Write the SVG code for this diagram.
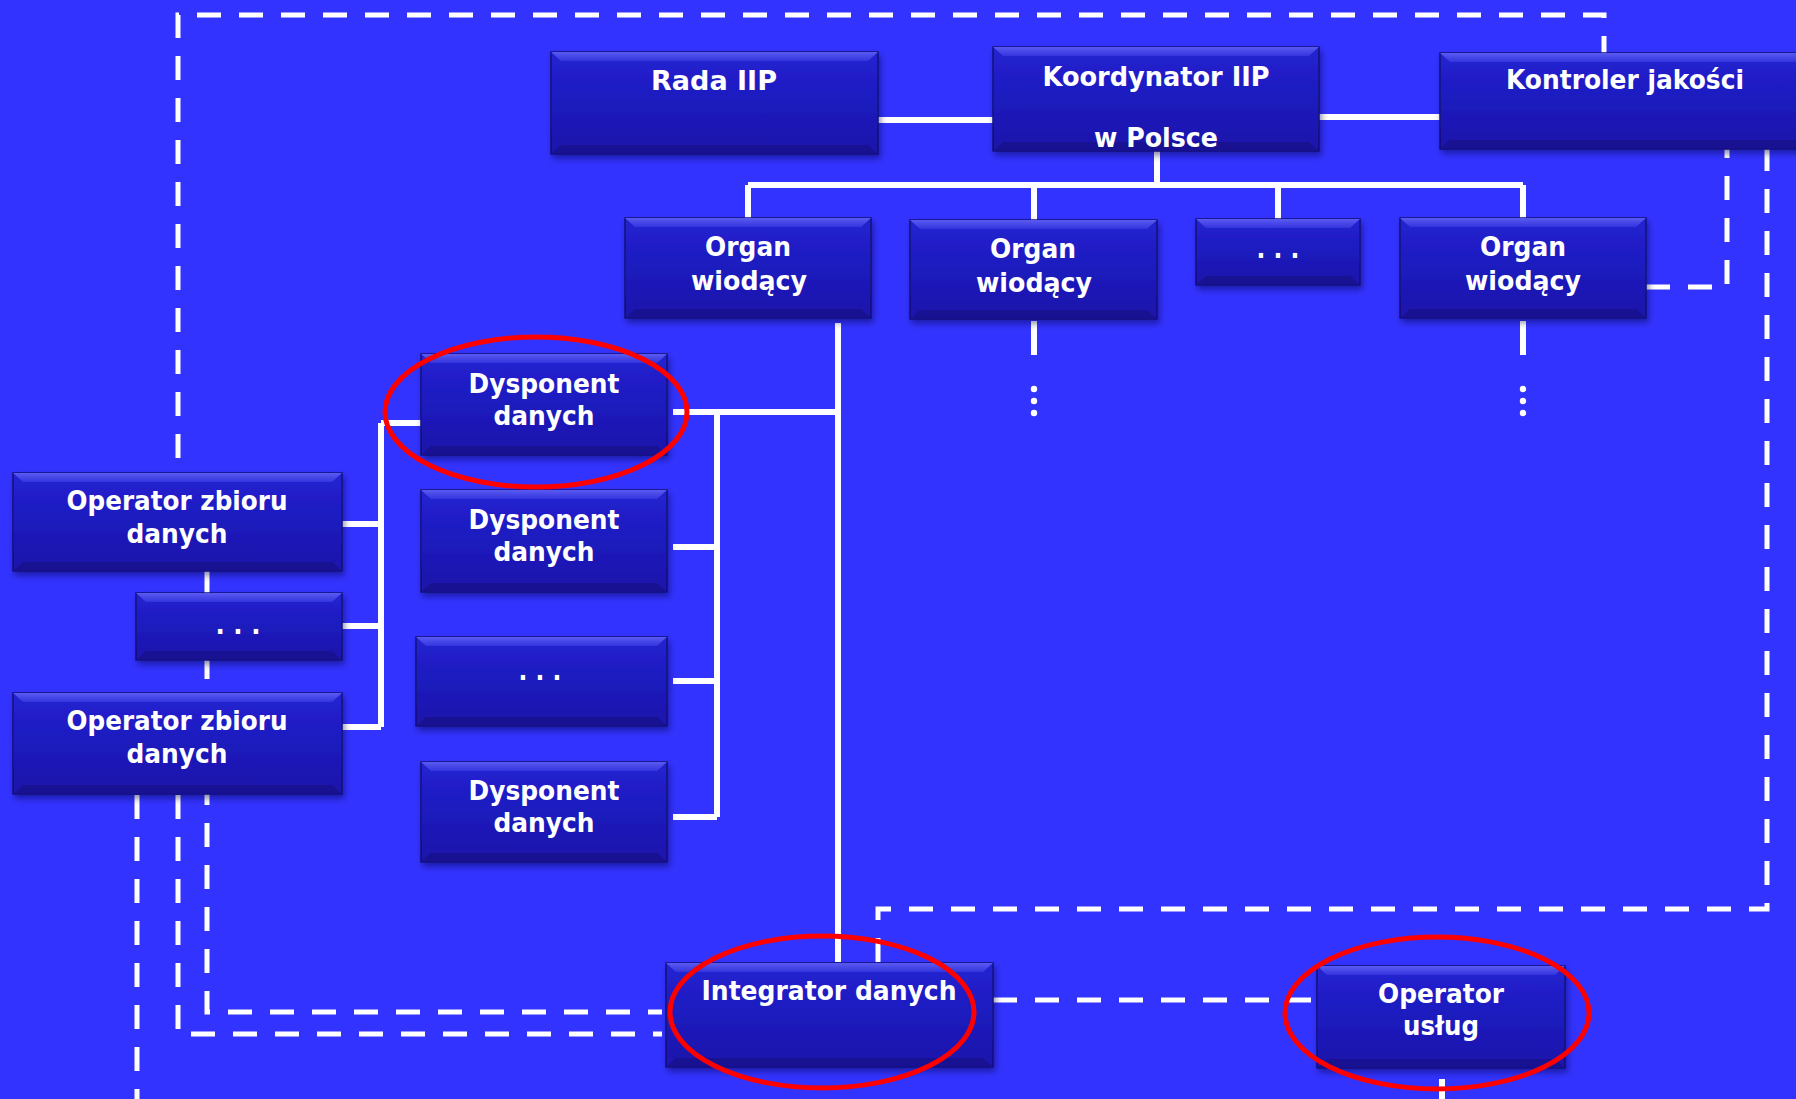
<svg xmlns="http://www.w3.org/2000/svg" width="1796" height="1099" viewBox="0 0 1796 1099">
<defs>
<linearGradient id="g" x1="0" y1="0" x2="0" y2="1">
<stop offset="0" stop-color="#2222d2"/>
<stop offset="1" stop-color="#1a14aa"/>
</linearGradient>
<linearGradient id="hg" x1="0" y1="0" x2="0" y2="1">
<stop offset="0" stop-color="#5a5af2"/>
<stop offset="1" stop-color="#3434de"/>
</linearGradient>
<filter id="sh" x="-10%" y="-10%" width="120%" height="130%">
<feDropShadow dx="2" dy="4" stdDeviation="3" flood-color="#000040" flood-opacity="0.45"/>
</filter>
<style>
.b{fill:url(#g);stroke:#10107a;stroke-width:1.5;filter:url(#sh)}
.hl{fill:url(#hg)}
.bt{fill:#17128e;opacity:0.85}
.t{fill:#fff;font-family:"DejaVu Sans","Liberation Sans",sans-serif;font-weight:bold;font-size:26px;text-anchor:middle}
.s{fill:none;stroke:#fff;stroke-width:6}
.d{fill:none;stroke:#fff;stroke-width:5;stroke-dasharray:24 18}
.r{fill:none;stroke:#ff0000;stroke-width:5}
</style>
</defs>
<rect width="1796" height="1099" fill="#3333ff"/>
<g id="connectors">
<path class="d" d="M178 458 V15 H1604 V53"/>
<path class="d" d="M137 795 V1099"/>
<path class="d" d="M178 795 V1034 H662"/>
<path class="d" d="M207 571 V1012 H662"/>
<path class="d" d="M993 1000 H1317"/>
<path class="d" d="M878 962 V909 H1767 V149"/>
<path class="d" d="M1646 287 H1727 V149"/>
<path class="s" d="M878 120 H993"/>
<path class="s" d="M1319 117 H1440"/>
<path class="s" d="M1157 151 V185"/>
<path class="s" d="M748 185 H1523"/>
<path class="s" d="M748 185 V218 M1034 185 V220 M1278 185 V219 M1523 185 V218"/>
<path class="s" d="M1034 321 V355 M1523 321 V355"/>
<g fill="#fff"><circle cx="1034" cy="389" r="3.2"/><circle cx="1034" cy="401" r="3.2"/><circle cx="1034" cy="413" r="3.2"/><circle cx="1523" cy="389" r="3.2"/><circle cx="1523" cy="401" r="3.2"/><circle cx="1523" cy="413" r="3.2"/></g>
<path class="s" d="M838 323 V962"/>
<path class="s" d="M673 412 H838"/>
<path class="s" d="M717 412 V817 M673 547 H717 M673 681 H717 M673 817 H717"/>
<path class="s" d="M381 423 V727 M381 423 H421 M342 524 H381 M342 626 H381 M342 727 H381"/>
<path class="s" d="M1442 1079 V1099" stroke-width="5"/>
</g>
<g id="rada"><rect class="b" x="551" y="52" width="327" height="102"/><path class="hl" d="M551 52 h327 l-10 9 h-307 z"/><path class="bt" d="M551 154 h327 l-10 -9 h-307 z"/><text class="t" x="714" y="90" textLength="126" lengthAdjust="spacingAndGlyphs">Rada IIP</text></g>
<g id="koordynator"><rect class="b" x="993" y="47" width="326" height="104"/><path class="hl" d="M993 47 h326 l-10 9 h-306 z"/><path class="bt" d="M993 151 h326 l-10 -9 h-306 z"/><text class="t" x="1156" y="86" textLength="227" lengthAdjust="spacingAndGlyphs">Koordynator IIP</text><text class="t" x="1156" y="147" textLength="124" lengthAdjust="spacingAndGlyphs">w Polsce</text></g>
<g id="kontroler"><rect class="b" x="1440" y="53" width="380" height="96"/><path class="hl" d="M1440 53 h380 l-10 9 h-360 z"/><path class="bt" d="M1440 149 h380 l-10 -9 h-360 z"/><text class="t" x="1625" y="89" textLength="238" lengthAdjust="spacingAndGlyphs">Kontroler jakości</text></g>
<g id="organ1"><rect class="b" x="625" y="218" width="246" height="100"/><path class="hl" d="M625 218 h246 l-10 9 h-226 z"/><path class="bt" d="M625 318 h246 l-10 -9 h-226 z"/><text class="t" x="748" y="256" textLength="86" lengthAdjust="spacingAndGlyphs">Organ</text><text class="t" x="749" y="290" textLength="116" lengthAdjust="spacingAndGlyphs">wiodący</text></g>
<g id="organ2"><rect class="b" x="910" y="220" width="247" height="99"/><path class="hl" d="M910 220 h247 l-10 9 h-227 z"/><path class="bt" d="M910 319 h247 l-10 -9 h-227 z"/><text class="t" x="1033" y="258" textLength="86" lengthAdjust="spacingAndGlyphs">Organ</text><text class="t" x="1034" y="292" textLength="116" lengthAdjust="spacingAndGlyphs">wiodący</text></g>
<g id="organ3"><rect class="b" x="1196" y="219" width="164" height="66"/><path class="hl" d="M1196 219 h164 l-10 9 h-144 z"/><path class="bt" d="M1196 285 h164 l-10 -9 h-144 z"/><text class="t" x="1278" y="258" textLength="43" lengthAdjust="spacingAndGlyphs">. . .</text></g>
<g id="organ4"><rect class="b" x="1400" y="218" width="246" height="100"/><path class="hl" d="M1400 218 h246 l-10 9 h-226 z"/><path class="bt" d="M1400 318 h246 l-10 -9 h-226 z"/><text class="t" x="1523" y="256" textLength="86" lengthAdjust="spacingAndGlyphs">Organ</text><text class="t" x="1523" y="290" textLength="116" lengthAdjust="spacingAndGlyphs">wiodący</text></g>
<g id="dysponent1"><rect class="b" x="421" y="354" width="246" height="101"/><path class="hl" d="M421 354 h246 l-10 9 h-226 z"/><path class="bt" d="M421 455 h246 l-10 -9 h-226 z"/><text class="t" x="544" y="393" textLength="151" lengthAdjust="spacingAndGlyphs">Dysponent</text><text class="t" x="544" y="425" textLength="101" lengthAdjust="spacingAndGlyphs">danych</text></g>
<g id="dysponent2"><rect class="b" x="421" y="490" width="246" height="102"/><path class="hl" d="M421 490 h246 l-10 9 h-226 z"/><path class="bt" d="M421 592 h246 l-10 -9 h-226 z"/><text class="t" x="544" y="529" textLength="151" lengthAdjust="spacingAndGlyphs">Dysponent</text><text class="t" x="544" y="561" textLength="101" lengthAdjust="spacingAndGlyphs">danych</text></g>
<g id="dysponent3"><rect class="b" x="416" y="637" width="251" height="89"/><path class="hl" d="M416 637 h251 l-10 9 h-231 z"/><path class="bt" d="M416 726 h251 l-10 -9 h-231 z"/><text class="t" x="540" y="680" textLength="43" lengthAdjust="spacingAndGlyphs">. . .</text></g>
<g id="dysponent4"><rect class="b" x="421" y="762" width="246" height="100"/><path class="hl" d="M421 762 h246 l-10 9 h-226 z"/><path class="bt" d="M421 862 h246 l-10 -9 h-226 z"/><text class="t" x="544" y="800" textLength="151" lengthAdjust="spacingAndGlyphs">Dysponent</text><text class="t" x="544" y="832" textLength="101" lengthAdjust="spacingAndGlyphs">danych</text></g>
<g id="operator1"><rect class="b" x="13" y="473" width="329" height="98"/><path class="hl" d="M13 473 h329 l-10 9 h-309 z"/><path class="bt" d="M13 571 h329 l-10 -9 h-309 z"/><text class="t" x="177" y="510" textLength="221" lengthAdjust="spacingAndGlyphs">Operator zbioru</text><text class="t" x="177" y="543" textLength="101" lengthAdjust="spacingAndGlyphs">danych</text></g>
<g id="operator2"><rect class="b" x="136" y="593" width="206" height="67"/><path class="hl" d="M136 593 h206 l-10 9 h-186 z"/><path class="bt" d="M136 660 h206 l-10 -9 h-186 z"/><text class="t" x="238" y="634" textLength="45" lengthAdjust="spacingAndGlyphs">. . .</text></g>
<g id="operator3"><rect class="b" x="13" y="693" width="329" height="101"/><path class="hl" d="M13 693 h329 l-10 9 h-309 z"/><path class="bt" d="M13 794 h329 l-10 -9 h-309 z"/><text class="t" x="177" y="730" textLength="221" lengthAdjust="spacingAndGlyphs">Operator zbioru</text><text class="t" x="177" y="763" textLength="101" lengthAdjust="spacingAndGlyphs">danych</text></g>
<g id="integrator"><rect class="b" x="666" y="963" width="327" height="104"/><path class="hl" d="M666 963 h327 l-10 9 h-307 z"/><path class="bt" d="M666 1067 h327 l-10 -9 h-307 z"/><text class="t" x="829" y="1000" textLength="255" lengthAdjust="spacingAndGlyphs">Integrator danych</text></g>
<g id="operatorUslug"><rect class="b" x="1317" y="966" width="248" height="102"/><path class="hl" d="M1317 966 h248 l-10 9 h-228 z"/><path class="bt" d="M1317 1068 h248 l-10 -9 h-228 z"/><text class="t" x="1441" y="1003" textLength="126" lengthAdjust="spacingAndGlyphs">Operator</text><text class="t" x="1441" y="1035" textLength="76" lengthAdjust="spacingAndGlyphs">usług</text></g>
<g id="highlights">
<ellipse class="r" cx="536" cy="412" rx="151" ry="75"/>
<ellipse class="r" cx="822" cy="1012" rx="152" ry="76"/>
<ellipse class="r" cx="1437" cy="1013" rx="152" ry="76"/>
</g>
</svg>
